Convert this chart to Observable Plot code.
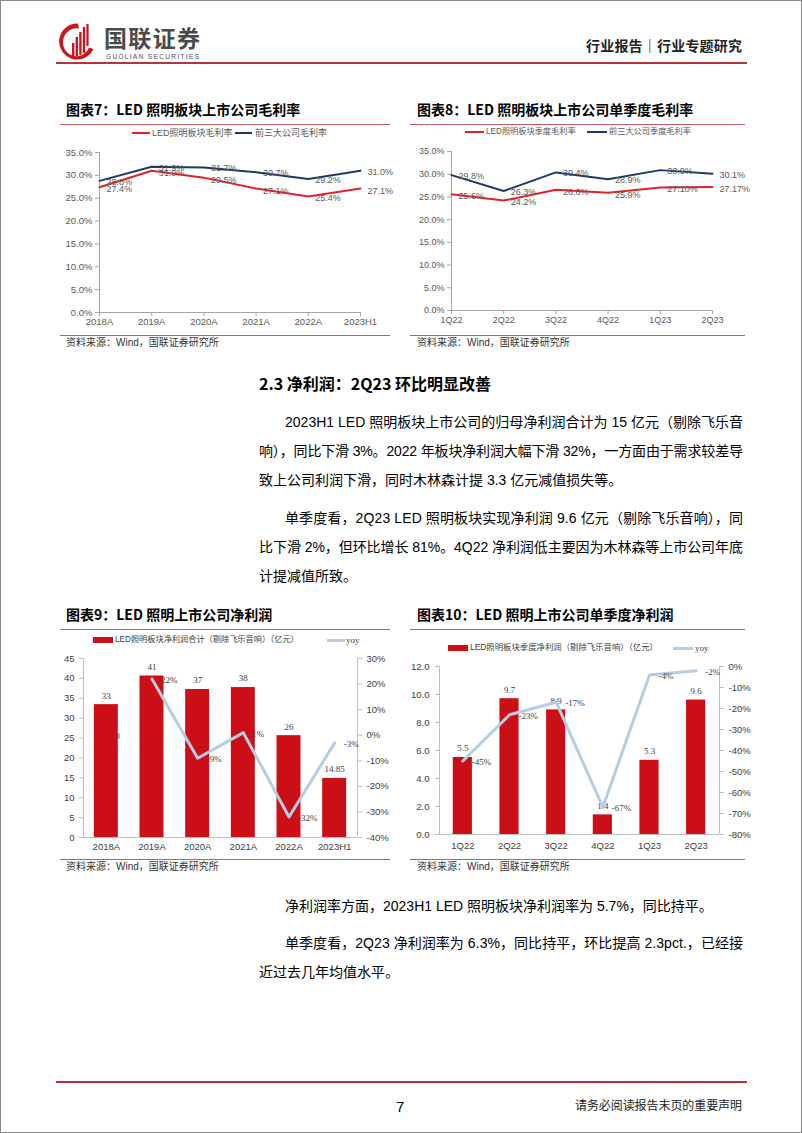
<!DOCTYPE html>
<html>
<head>
<meta charset="utf-8">
<script src="https://cdn.jsdelivr.net/npm/d3@7"></script>
<script src="https://cdn.jsdelivr.net/npm/@observablehq/plot@0.6"></script>
<style>
  html, body { margin: 0; padding: 0; background: #fff; }
  #page { position: relative; width: 802px; height: 1133px; overflow: hidden; background: #fff;
          font-family: "Liberation Sans", "Noto Sans CJK SC", sans-serif; }
  #frame { position: absolute; left: 0; top: 0; width: 802px; height: 1133px; box-sizing: border-box;
           border: 1px solid #8a8a8a; pointer-events: none; z-index: 10; }
  .t { position: absolute; white-space: nowrap; }
  .hl { position: absolute; }
  svg.abs { position: absolute; }
</style>
</head>
<body>
<div id="page"><div id="frame"></div></div>
<script>
// ---------------- DATA ----------------
// Chart 7: annual gross margin (%)
const years = ["2018A", "2019A", "2020A", "2021A", "2022A", "2023H1"];
const ledGrossMargin = [27.4, 31.0, 29.5, 27.1, 25.4, 27.1];
const top3GrossMargin = [28.8, 31.9, 31.7, 30.7, 29.2, 31.0];
const ledGrossLabels = ["27.4%", "31.0%", "29.5%", "27.1%", "25.4%", "27.1%"];
const top3GrossLabels = ["28.8%", "31.9%", "31.7%", "30.7%", "29.2%", "31.0%"];

// Chart 8: quarterly gross margin (%)
const quarters = ["1Q22", "2Q22", "3Q22", "4Q22", "1Q23", "2Q23"];
const ledQGrossMargin = [25.6, 24.2, 26.6, 25.9, 27.10, 27.17];
const top3QGrossMargin = [29.8, 26.3, 30.4, 28.9, 30.9, 30.1];
const ledQGrossLabels = ["25.6%", "24.2%", "26.6%", "25.9%", "27.10%", "27.17%"];
const top3QGrossLabels = ["29.8%", "26.3%", "30.4%", "28.9%", "30.9%", "30.1%"];
const marginTicks = [0, 5, 10, 15, 20, 25, 30, 35];

// Chart 9: annual net profit (亿元) and yoy (%)
const netProfit = [33.4, 40.6, 37.2, 37.7, 25.6, 14.85];
const netProfitLabels = ["33", "41", "37", "38", "26", "14.85"];
const netProfitYoy = [null, 22, -9, 1, -32, -3];
const netProfitYoyLabels = ["0", "22%", "-9%", "1%", "-32%", "-3%"];
const profitTicks = [0, 5, 10, 15, 20, 25, 30, 35, 40, 45];
const profitYoyTicks = [-40, -30, -20, -10, 0, 10, 20, 30];

// Chart 10: quarterly net profit (亿元) and yoy (%)
const qNetProfit = [5.5, 9.7, 8.9, 1.4, 5.3, 9.6];
const qNetProfitLabels = ["5.5", "9.7", "8.9", "1.4", "5.3", "9.6"];
const qNetProfitYoy = [-45, -23, -17, -67, -4, -2];
const qNetProfitYoyLabels = ["-45%", "-23%", "-17%", "-67%", "-4%", "-2%"];
const qProfitTicks = [0, 2, 4, 6, 8, 10, 12];
const qYoyTicks = [-80, -70, -60, -50, -40, -30, -20, -10, 0];

// ---------------- STYLE ----------------
const F = '"Liberation Sans", "Noto Sans CJK SC", sans-serif';
const FS = '"Liberation Serif", "Noto Sans CJK SC", serif';
const CJK = '"Liberation Sans", "Noto Sans CJK SC", sans-serif';
const RED = "#e0232b", NAVY = "#1f3864", BAR = "#cc0e16", YOY = "#b5cde3";
const AX = "#a6a6a6", AX2 = "#bfbfbf", TXT = "#595959", TXT2 = "#404040";
const RULE = "#c65a62";

const page = document.getElementById("page");

function text(str, x, yc, o = {}) {
  const size = o.size || 14;
  const lh = o.lh || size * 1.4;
  const d = document.createElement("div");
  d.className = "t";
  d.textContent = str;
  d.style.left = x + "px";
  d.style.fontSize = size + "px";
  d.style.lineHeight = lh + "px";
  d.style.top = (yc - lh / 2) + "px";
  d.style.fontFamily = o.family || CJK;
  d.style.color = o.color || "#000";
  if (o.bold) d.style.fontWeight = "bold";
  if (o.ls) d.style.letterSpacing = o.ls + "px";
  page.appendChild(d);
  if (o.right) {
    const w = d.getBoundingClientRect().width;
    const n = [...str].length;
    d.style.letterSpacing = ((o.right - x - w) / (n - 1)) + "px";
  }
  return d;
}
function hline(x1, x2, y, color, w = 1) {
  const d = document.createElement("div");
  d.className = "hl";
  Object.assign(d.style, { left: x1 + "px", top: (y - w / 2) + "px", width: (x2 - x1) + "px", height: w + "px", background: color });
  page.appendChild(d);
}
function box(x, y, w, h, color) {
  const d = document.createElement("div");
  d.className = "hl";
  Object.assign(d.style, { left: x + "px", top: y + "px", width: w + "px", height: h + "px", background: color });
  page.appendChild(d);
}
function place(svg, x, y) {
  svg.classList.add("abs");
  svg.style.left = x + "px";
  svg.style.top = y + "px";
  page.appendChild(svg);
}

// ---------------- HEADER ----------------
const logo = document.createElement("div");
logo.innerHTML = `<svg width="38" height="38" viewBox="0 0 38 38" style="position:absolute;left:58px;top:22px">
  <path fill="#c9161d" d="M20 1.5 A18 18 0 1 0 35.5 27 L31 25.5 A13.5 14 0 1 1 21 6.5 Z"/>
  <rect x="14" y="21" width="2.4" height="13" fill="#c9161d"/>
  <rect x="17.6" y="15" width="2.4" height="19" fill="#c9161d"/>
  <rect x="21.2" y="10" width="2.4" height="23" fill="#c9161d"/>
  <rect x="24.8" y="5" width="2.4" height="26" fill="#c9161d"/>
  <rect x="28.4" y="2" width="2.2" height="22" fill="#c9161d"/>
</svg>`;
page.appendChild(logo);
text("国联证券", 104, 37, { size: 23, lh: 23, color: "#4a4a4a", bold: true, family: '"Noto Sans CJK SC", sans-serif', right: 200 });
text("GUOLIAN SECURITIES", 106, 56.5, { size: 6.5, lh: 7, color: "#4a4a4a", right: 199 });
text("行业报告｜行业专题研究", 586, 47, { size: 14, bold: true, color: "#222", right: 742 });
hline(56, 747, 63, "#b8333a", 1.5);

// ---------------- CHART TITLES / RULES ----------------
function chartFrame(x1, x2, title, tx, ty, topRuleY, srcRuleY, srcY) {
  text(title, tx, ty, { size: 14, bold: true, family: '"Noto Sans CJK SC", sans-serif' });
  hline(x1, x2, topRuleY, RULE, 1);
  hline(x1, x2, srcRuleY, RULE, 1);
  text("资料来源：Wind，国联证券研究所", tx, srcY, { size: 10, color: "#333" });
}
chartFrame(60, 390, "图表7：LED 照明板块上市公司毛利率", 66, 110, 124, 335, 343);
chartFrame(410, 745, "图表8：LED 照明板块上市公司单季度毛利率", 417, 110, 124, 335, 343);
chartFrame(60, 390, "图表9：LED 照明上市公司净利润", 66, 615, 629, 859, 867);
chartFrame(410, 745, "图表10：LED 照明上市公司单季度净利润", 417, 615, 629, 859, 867);

// ---------------- LEGENDS ----------------
hline(132, 150, 133, RED, 2);
text("LED照明板块毛利率", 152, 133, { size: 9, color: TXT });
hline(235, 252, 133, NAVY, 2);
text("前三大公司毛利率", 255, 133, { size: 9, color: TXT });

hline(465, 484, 132, RED, 2);
text("LED照明板块季度毛利率", 486, 132, { size: 8.2, color: TXT });
hline(587, 607, 132, NAVY, 2);
text("前三大公司季度毛利率", 609, 132, { size: 8.2, color: TXT });

box(93, 637, 20, 6, BAR);
text("LED照明板块净利润合计（剔除飞乐音响）（亿元）", 115, 640, { size: 8.2, color: TXT2 });
hline(327, 345, 640, YOY, 3);
text("yoy", 346, 640, { size: 9, color: TXT2, family: FS });

box(448, 645, 20, 6, BAR);
text("LED照明板块季度净利润（剔除飞乐音响）（亿元）", 470, 648, { size: 8.4, color: TXT2 });
hline(673, 693, 648, YOY, 3);
text("yoy", 695, 648, { size: 9, color: TXT2, family: FS });

// ---------------- LINE CHARTS (7, 8) ----------------
function marginPlot(cats, led, top3, ledL, top3L, o) {
  const data = cats.map((k, i) => ({ k, led: led[i], top3: top3[i], ledL: ledL[i], top3L: top3L[i] }));
  return Plot.plot({
    width: o.w, height: o.h, marginLeft: o.ml, marginRight: o.mr, marginTop: o.mt, marginBottom: o.mb,
    style: { fontFamily: F, background: "transparent", overflow: "visible" },
    x: { type: "point", domain: cats, padding: 0, round: false, label: null },
    y: { domain: [0, 35], label: null },
    marks: [
      Plot.ruleY([0], { stroke: AX }),
      Plot.ruleX([cats[0]], { stroke: AX }),
      Plot.axisY(marginTicks, { tickSize: 4, tickPadding: 3, stroke: AX, fill: TXT, fontSize: o.af, tickFormat: d => d.toFixed(1) + "%" }),
      Plot.axisX(cats, { tickSize: 4, tickPadding: 2, stroke: AX, fill: TXT, fontSize: o.af }),
      Plot.line(data, { x: "k", y: "top3", stroke: NAVY, strokeWidth: 2 }),
      Plot.line(data, { x: "k", y: "led", stroke: RED, strokeWidth: 2 }),
      Plot.text(data, { x: "k", y: "top3", text: "top3L", textAnchor: "start", dx: 7, dy: 1, fill: TXT, fontSize: o.lf }),
      Plot.text(data, { x: "k", y: "led", text: "ledL", textAnchor: "start", dx: 7, dy: 2, fill: TXT, fontSize: o.lf })
    ]
  });
}
place(marginPlot(years, ledGrossMargin, top3GrossMargin, ledGrossLabels, top3GrossLabels,
  { w: 330, h: 195, ml: 39, mr: 30, mt: 12, mb: 23, af: 9.5, lf: 9 }), 60, 140);
place(marginPlot(quarters, ledQGrossMargin, top3QGrossMargin, ledQGrossLabels, top3QGrossLabels,
  { w: 340, h: 195, ml: 41, mr: 38, mt: 11, mb: 25, af: 9, lf: 9 }), 410, 140);

// ---------------- BAR + LINE CHARTS (9, 10) ----------------
function barLinePlots(cats, v, vL, yoy, yoyL, o, x, y) {
  const data = cats.map((k, i) => ({ k, v: v[i], vL: vL[i], yoy: yoy[i], yoyL: yoyL[i] }));
  const dims = { width: o.w, height: o.h, marginLeft: o.ml, marginRight: o.mr, marginTop: o.mt, marginBottom: o.mb,
    style: { fontFamily: F, background: "transparent", overflow: "visible" } };
  const bars = Plot.plot({
    ...dims,
    x: { type: "band", domain: cats, paddingInner: o.pi, paddingOuter: o.pi / 2, round: false, label: null },
    y: { domain: o.yDomain, label: null },
    marks: [
      Plot.barY(data, { x: "k", y: "v", fill: BAR }),
      Plot.ruleY([0], { stroke: AX2 }),
      Plot.axisY(o.yTicks, { tickSize: 4, tickPadding: o.ltp, stroke: AX2, fill: TXT2, fontSize: 9.5, tickFormat: o.yFmt }),
      Plot.axisX(cats, { tickSize: 0, tickPadding: o.xtp, fill: TXT2, fontSize: 9.5 }),
      Plot.text(data, { x: "k", y: "v", text: "vL", dy: -9, fontFamily: FS, fontSize: 9, fill: TXT2 })
    ]
  });
  const line = Plot.plot({
    ...dims,
    x: { domain: [0, cats.length], axis: null, label: null },
    y: { domain: o.y2Domain, label: null },
    marks: [
      Plot.ruleX([0, cats.length], { stroke: AX2 }),
      Plot.axisY(o.y2Ticks, { anchor: "right", tickSize: 4, tickPadding: 5, stroke: AX2, fill: TXT2, fontSize: 9.5, tickFormat: d => d + "%" }),
      Plot.line(data, { x: (d, i) => i + 0.5, y: "yoy", stroke: YOY, strokeWidth: 3 }),
      Plot.text(data, { x: (d, i) => i + 0.5, y: d => d.yoy ?? 0, text: "yoyL", textAnchor: "start", dx: 9, dy: 1, fontFamily: FS, fontSize: 9, fill: TXT2 })
    ]
  });
  place(bars, x, y);
  place(line, x, y);
}
barLinePlots(years, netProfit, netProfitLabels, netProfitYoy, netProfitYoyLabels,
  { w: 330, h: 215, ml: 23, mr: 33, mt: 13, mb: 23, pi: 0.475, yDomain: [0, 45], yTicks: profitTicks, yFmt: d => String(d),
    y2Domain: [-40, 30], y2Ticks: profitYoyTicks, ltp: 5, xtp: 6 }, 60, 645);
barLinePlots(quarters, qNetProfit, qNetProfitLabels, qNetProfitYoy, qNetProfitYoyLabels,
  { w: 340, h: 200, ml: 29, mr: 31, mt: 11, mb: 21, pi: 0.59, yDomain: [0, 12], yTicks: qProfitTicks, yFmt: d => d.toFixed(1),
    y2Domain: [-80, 0], y2Ticks: qYoyTicks, ltp: 6, xtp: 8 }, 410, 655);

// ---------------- BODY TEXT ----------------
const L = 259, IND = 285, R = 743;
text("2.3 净利润：2Q23 环比明显改善", L, 383, { size: 16, bold: true, family: '"Noto Sans CJK SC", sans-serif' });
text("2023H1 LED 照明板块上市公司的归母净利润合计为 15 亿元（剔除飞乐音", IND, 423, { right: R });
text("响），同比下滑 3%。2022 年板块净利润大幅下滑 32%，一方面由于需求较差导", L, 452, { right: R });
text("致上公司利润下滑，同时木林森计提 3.3 亿元减值损失等。", L, 481);
text("单季度看，2Q23 LED 照明板块实现净利润 9.6 亿元（剔除飞乐音响），同", IND, 519, { right: R });
text("比下滑 2%，但环比增长 81%。4Q22 净利润低主要因为木林森等上市公司年底", L, 548, { right: R });
text("计提减值所致。", L, 577);

text("净利润率方面，2023H1 LED 照明板块净利润率为 5.7%，同比持平。", IND, 907);
text("单季度看，2Q23 净利润率为 6.3%，同比持平，环比提高 2.3pct.，已经接", IND, 944, { right: R });
text("近过去几年均值水平。", L, 973);

// ---------------- FOOTER ----------------
hline(56, 747, 1082, "#b8333a", 1.5);
text("7", 396, 1106, { size: 15 });
text("请务必阅读报告末页的重要声明", 575, 1106, { size: 12, color: "#222", right: 742 });
</script>
</body>
</html>
